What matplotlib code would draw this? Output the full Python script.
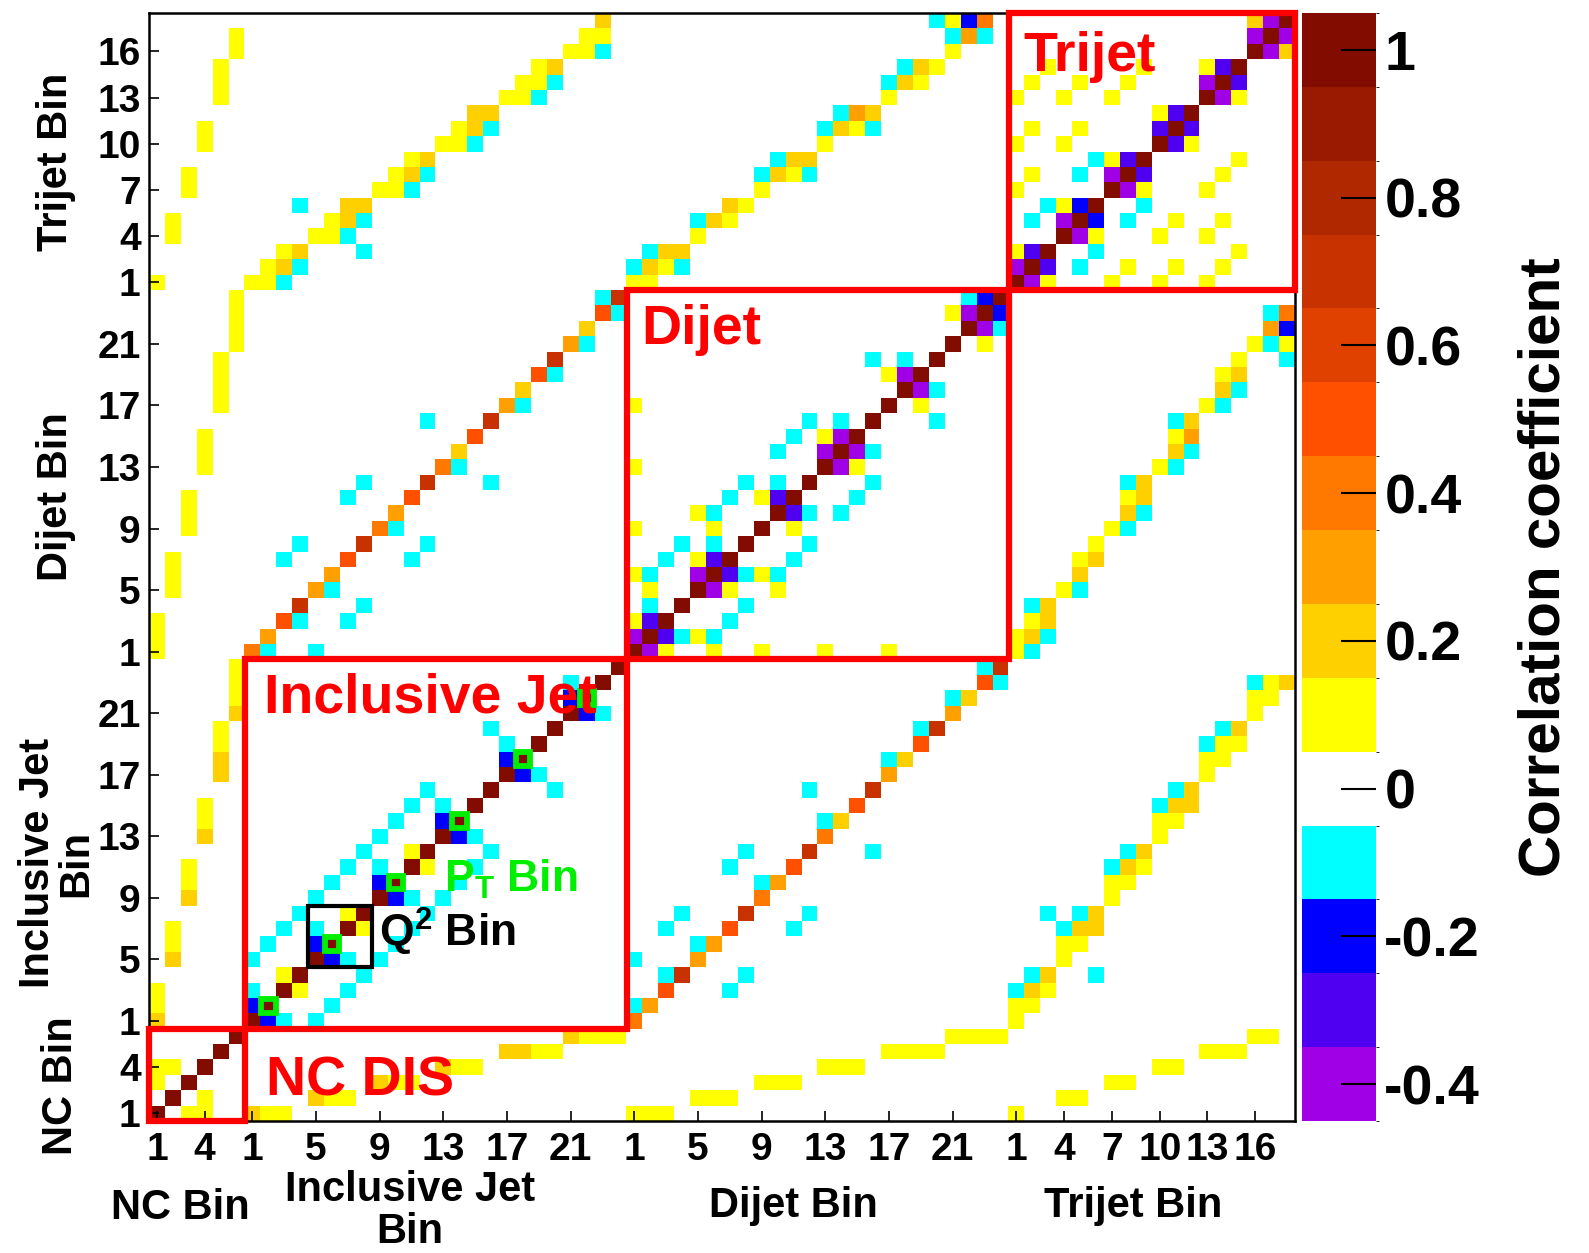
import numpy as np
import matplotlib
matplotlib.use('Agg')
from matplotlib import pyplot as plt
from matplotlib.colors import ListedColormap, BoundaryNorm
from matplotlib.patches import Rectangle

plt.rcParams['font.family'] = ['Liberation Sans', 'DejaVu Sans']
plt.rcParams['font.weight'] = 'bold'
plt.rcParams['mathtext.fontset'] = 'custom'
plt.rcParams['mathtext.rm'] = 'Liberation Sans:bold'
plt.rcParams['mathtext.bf'] = 'Liberation Sans:bold'

# bin counts of the four groups
n_nc, n_inc, n_dij, n_tri = 6, 24, 24, 18
off_nc, off_inc, off_dij, off_tri = 0, 6, 30, 54

# off-diagonal correlations (local bin index in row group, local bin index in col group, value)
nc_nc = [(0, 2, 0.1), (0, 3, 0.1), (1, 3, 0.1)]
nc_inc = [(0, 0, 0.2), (0, 1, 0.1), (0, 2, 0.1),
          (1, 4, 0.2), (1, 5, 0.1), (1, 6, 0.1),
          (2, 8, 0.2), (2, 9, 0.1), (2, 10, 0.1),
          (3, 12, 0.2), (3, 13, 0.1), (3, 14, 0.1),
          (4, 16, 0.2), (4, 17, 0.2), (4, 18, 0.1), (4, 19, 0.1),
          (5, 20, 0.2), (5, 21, 0.1), (5, 22, 0.1), (5, 23, 0.1)]
nc_dij = [(0, 0, 0.1), (0, 1, 0.1), (0, 2, 0.1),
          (1, 4, 0.1), (1, 5, 0.1), (1, 6, 0.1),
          (2, 8, 0.1), (2, 9, 0.1), (2, 10, 0.1),
          (3, 12, 0.1), (3, 13, 0.1), (3, 14, 0.1),
          (4, 16, 0.1), (4, 17, 0.1), (4, 18, 0.1), (4, 19, 0.1),
          (5, 20, 0.1), (5, 21, 0.1), (5, 22, 0.1), (5, 23, 0.1)]
nc_tri = [(0, 0, 0.1), (1, 3, 0.1), (1, 4, 0.1), (2, 6, 0.1), (2, 7, 0.1),
          (3, 9, 0.1), (3, 10, 0.1), (4, 12, 0.1), (4, 13, 0.1), (4, 14, 0.1),
          (5, 15, 0.1), (5, 16, 0.1)]
inc_inc = [(0, 1, -0.2), (0, 2, -0.1), (2, 3, 0.1), (0, 4, -0.1), (1, 5, -0.1), (2, 6, -0.1), (3, 7, -0.1),
           (4, 5, -0.2), (4, 6, -0.1), (6, 7, 0.1), (4, 8, -0.1), (5, 9, -0.1), (6, 10, -0.1), (7, 11, -0.1),
           (8, 9, -0.2), (8, 10, -0.1), (10, 11, 0.1), (8, 12, -0.1), (9, 13, -0.1), (10, 14, -0.1), (11, 15, -0.1),
           (12, 13, -0.2), (12, 14, -0.1), (15, 19, -0.1),
           (16, 17, -0.2), (16, 18, -0.1),
           (20, 21, -0.2), (20, 22, -0.1)]
inc_dij = [(0, 0, 0.4), (1, 0, -0.1), (1, 1, 0.3), (2, 2, 0.5), (2, 6, -0.1), (3, 2, -0.1), (3, 3, 0.7), (3, 7, -0.1),
           (4, 0, -0.1), (4, 4, 0.3), (5, 4, -0.1), (5, 5, 0.3), (6, 2, -0.1), (6, 6, 0.5), (6, 10, -0.1),
           (7, 3, -0.1), (7, 7, 0.7), (7, 11, -0.1), (8, 8, 0.4), (9, 8, -0.1), (9, 9, 0.3), (10, 6, -0.1),
           (10, 10, 0.5), (11, 7, -0.1), (11, 11, 0.7), (11, 15, -0.1), (12, 12, 0.4), (13, 12, -0.1),
           (13, 13, 0.2), (14, 14, 0.5), (15, 11, -0.1), (15, 15, 0.7), (16, 16, 0.3), (17, 16, -0.1),
           (17, 17, 0.2), (18, 18, 0.5), (19, 18, -0.1), (19, 19, 0.7), (20, 20, 0.3), (21, 20, -0.1),
           (21, 21, 0.2), (22, 22, 0.5), (22, 23, -0.1), (23, 22, -0.1), (23, 23, 0.7)]
inc_tri = [(0, 0, 0.1), (1, 0, 0.1), (1, 1, 0.1), (2, 0, -0.1), (2, 1, 0.2), (2, 2, 0.1),
           (3, 1, -0.1), (3, 2, 0.2), (3, 5, -0.1), (4, 3, 0.1), (5, 3, 0.1), (5, 4, 0.1),
           (6, 3, -0.1), (6, 4, 0.2), (6, 5, 0.2), (7, 2, -0.1), (7, 4, -0.1), (7, 5, 0.2),
           (8, 6, 0.1), (9, 6, 0.1), (9, 7, 0.1), (10, 6, -0.1), (10, 7, 0.2), (10, 8, 0.1),
           (11, 7, -0.1), (11, 8, 0.2), (12, 9, 0.1), (13, 9, 0.1), (13, 10, 0.1),
           (14, 9, -0.1), (14, 10, 0.2), (14, 11, 0.2), (15, 10, -0.1), (15, 11, 0.2),
           (16, 12, 0.1), (17, 12, 0.1), (17, 13, 0.1), (18, 12, -0.1), (18, 13, 0.1), (18, 14, 0.1),
           (19, 13, -0.1), (19, 14, 0.2), (20, 15, 0.1), (21, 15, 0.1), (21, 16, 0.1),
           (22, 15, -0.1), (22, 16, 0.1), (22, 17, 0.2)]
dij_dij = [(0, 1, -0.4), (0, 2, 0.1), (0, 5, 0.1), (0, 8, 0.1), (0, 12, 0.1), (0, 16, 0.1),
           (1, 2, -0.3), (1, 3, -0.1), (1, 4, 0.1), (1, 5, -0.1), (2, 6, -0.1), (3, 7, -0.1),
           (4, 5, -0.4), (4, 6, 0.1), (4, 9, 0.1), (5, 6, -0.3), (5, 7, -0.1), (5, 8, 0.1), (5, 9, -0.1),
           (6, 10, -0.1), (7, 11, -0.1), (8, 10, 0.1), (9, 10, -0.3), (9, 11, -0.1), (9, 13, -0.1),
           (10, 14, -0.1), (11, 15, -0.1), (12, 13, -0.4), (12, 14, 0.1), (13, 14, -0.4), (13, 15, -0.1),
           (15, 19, -0.1), (16, 18, 0.1), (17, 18, -0.4), (17, 19, -0.1),
           (20, 22, 0.1), (21, 22, -0.4), (21, 23, -0.1), (22, 23, -0.2)]
dij_tri = [(0, 0, 0.1), (0, 1, -0.1), (1, 0, 0.1), (1, 1, 0.2), (1, 2, -0.1), (2, 1, 0.1), (2, 2, 0.2),
           (3, 1, -0.1), (3, 2, 0.2), (4, 3, 0.1), (4, 4, -0.1), (5, 4, 0.2), (6, 4, 0.1), (6, 5, 0.2),
           (7, 5, 0.1), (8, 6, 0.1), (8, 7, -0.1), (9, 7, 0.2), (9, 8, -0.1), (10, 7, 0.1), (10, 8, 0.2),
           (11, 7, -0.1), (11, 8, 0.2), (12, 9, 0.1), (12, 10, -0.1), (13, 10, 0.2), (13, 11, -0.1),
           (14, 10, 0.1), (14, 11, 0.3), (15, 10, -0.1), (15, 11, 0.2), (16, 12, 0.1), (16, 13, -0.1),
           (17, 13, 0.2), (17, 14, -0.1), (18, 13, 0.1), (18, 14, 0.2), (19, 14, 0.1), (19, 17, -0.1),
           (20, 15, 0.1), (20, 16, -0.1), (20, 17, 0.1), (21, 16, 0.3), (21, 17, -0.2),
           (22, 16, -0.1), (22, 17, 0.4)]
tri_tri = [(0, 1, -0.4), (0, 2, 0.1), (0, 6, 0.1), (0, 9, 0.1), (0, 12, 0.1),
           (1, 2, -0.3), (1, 4, -0.1), (1, 7, 0.1), (1, 10, 0.1), (1, 13, 0.1),
           (2, 5, -0.1), (2, 14, 0.1), (3, 4, -0.4), (3, 5, 0.1), (3, 9, 0.1), (3, 12, 0.1),
           (4, 5, -0.2), (4, 7, -0.1), (4, 10, 0.1), (4, 13, 0.1), (5, 8, -0.1),
           (6, 7, -0.4), (6, 8, 0.1), (6, 12, 0.1), (7, 8, -0.3), (7, 13, 0.1), (8, 14, 0.1),
           (9, 10, -0.3), (9, 11, 0.1), (10, 11, -0.3), (12, 13, -0.4), (12, 14, 0.1), (13, 14, -0.3),
           (15, 16, -0.4), (15, 17, 0.2), (16, 17, -0.4)]

nc_ticks = [1, 4]
inc_ticks = [1, 5, 9, 13, 17, 21]
dij_ticks = [1, 5, 9, 13, 17, 21]
tri_ticks = [1, 4, 7, 10, 13, 16]
cbar_ticks = [-0.4, -0.2, 0, 0.2, 0.4, 0.6, 0.8, 1.0]
cbar_labels = ['-0.4', '-0.2', '0', '0.2', '0.4', '0.6', '0.8', '1']

# build the symmetric matrix
N = n_nc + n_inc + n_dij + n_tri
M = np.zeros((N, N))
np.fill_diagonal(M, 1.0)
for entries, ro, co in [(nc_nc, off_nc, off_nc), (nc_inc, off_nc, off_inc), (nc_dij, off_nc, off_dij),
                        (nc_tri, off_nc, off_tri), (inc_inc, off_inc, off_inc), (inc_dij, off_inc, off_dij),
                        (inc_tri, off_inc, off_tri), (dij_dij, off_dij, off_dij), (dij_tri, off_dij, off_tri),
                        (tri_tri, off_tri, off_tri)]:
    for r, c, v in entries:
        M[r + ro, c + co] = v
        M[c + co, r + ro] = v

colors = ['#a000e6', '#5000f0', '#0000ff', '#00ffff', '#ffffff', '#ffff00', '#ffd000', '#ffa000',
          '#ff7800', '#ff5000', '#e04000', '#c83200', '#b02800', '#991a00', '#820c00']
bounds = np.arange(-0.45, 1.06, 0.1)
cmap = ListedColormap(colors)
norm = BoundaryNorm(bounds, cmap.N)

W, H = 1589, 1253


def fx(x):
    return x / W


def fy(y):
    return 1 - y / H


fig = plt.figure(figsize=(W / 100, H / 100), dpi=100)
ax = fig.add_axes([fx(149), fy(1121), (1295 - 149) / W, (1121 - 13) / H])
im = ax.imshow(M, origin='lower', cmap=cmap, norm=norm, extent=(0, N, 0, N),
               aspect='auto', interpolation='nearest')
ax.set_xlim(0, N)
ax.set_ylim(0, N)

pos = []
labs = []
for off, tks in [(off_nc, nc_ticks), (off_inc, inc_ticks), (off_dij, dij_ticks), (off_tri, tri_ticks)]:
    for t in tks:
        pos.append(off + t - 0.5)
        labs.append(str(t))
ax.set_xticks(pos)
ax.set_xticklabels(labs)
ax.set_yticks(pos)
ax.set_yticklabels(labs)
ax.tick_params(direction='in', length=7, width=1.2, labelsize=28, pad=8)
ax.tick_params(axis='y', pad=6)
for s in ax.spines.values():
    s.set_linewidth(1.8)

# group boxes
red_boxes = [(off_nc, n_nc), (off_inc, n_inc), (off_dij, n_dij), (off_tri, n_tri)]
for o, n in red_boxes:
    ax.add_patch(Rectangle((o, o), n, n, fill=False, edgecolor='#ff0000', lw=4.5, clip_on=False, zorder=5))

# Q2 bin box and pT markers
ax.add_patch(Rectangle((off_inc + 4, off_inc + 4), 4, 4, fill=False, edgecolor='black', lw=3, zorder=6))
for k in [1, 5, 9, 13, 17, 21]:
    g = off_inc + k
    ax.add_patch(Rectangle((g + 0.05, g + 0.05), 0.9, 0.9, fill=False, edgecolor='#00ee00', lw=4.2, zorder=6))

fig.text(fx(1023), fy(71), 'Trijet', color='#ff0000', fontsize=40, ha='left', va='baseline')
fig.text(fx(641), fy(344), 'Dijet', color='#ff0000', fontsize=40, ha='left', va='baseline')
fig.text(fx(264), fy(713), 'Inclusive Jet', color='#ff0000', fontsize=40, ha='left', va='baseline', zorder=10)
fig.text(fx(266), fy(1096), 'NC DIS', color='#ff0000', fontsize=40, ha='left', va='baseline')
fig.text(fx(444), fy(892), r'P$_{\mathrm{T}}$ Bin', color='#00ee00', fontsize=32, ha='left', va='baseline')
fig.text(fx(379), fy(947), r'Q$^{\mathrm{2}}$ Bin', color='black', fontsize=32, ha='left', va='baseline')

# axis group labels
fig.text(fx(180), fy(1208), 'NC Bin', fontsize=30, ha='center', va='center')
fig.text(fx(410), fy(1211), 'Inclusive Jet\nBin', fontsize=30, ha='center', va='center',
         multialignment='center', linespacing=1.05)
fig.text(fx(793), fy(1206), 'Dijet Bin', fontsize=30, ha='center', va='center')
fig.text(fx(1133), fy(1206), 'Trijet Bin', fontsize=30, ha='center', va='center')
fig.text(fx(56), fy(162), 'Trijet Bin', fontsize=30, ha='center', va='center', rotation=90)
fig.text(fx(56), fy(497), 'Dijet Bin', fontsize=30, ha='center', va='center', rotation=90)
fig.text(fx(57), fy(863), 'Inclusive Jet\nBin', fontsize=30, ha='center', va='center', rotation=90,
         multialignment='center', linespacing=0.95)
fig.text(fx(61), fy(1086), 'NC Bin', fontsize=30, ha='center', va='center', rotation=90)

# colour bar
cax = fig.add_axes([fx(1302), fy(1121), (1376 - 1302) / W, (1121 - 13) / H])
cb = fig.colorbar(im, cax=cax, ticks=cbar_ticks)
cb.set_ticklabels(cbar_labels)
cb.outline.set_visible(False)
cax.tick_params(direction='in', length=25, width=1.5, labelsize=40, pad=6)
fig.text(fx(1545), fy(567), 'Correlation coefficient', fontsize=42, ha='center', va='center', rotation=90)

plt.savefig('out.png', dpi=100)
